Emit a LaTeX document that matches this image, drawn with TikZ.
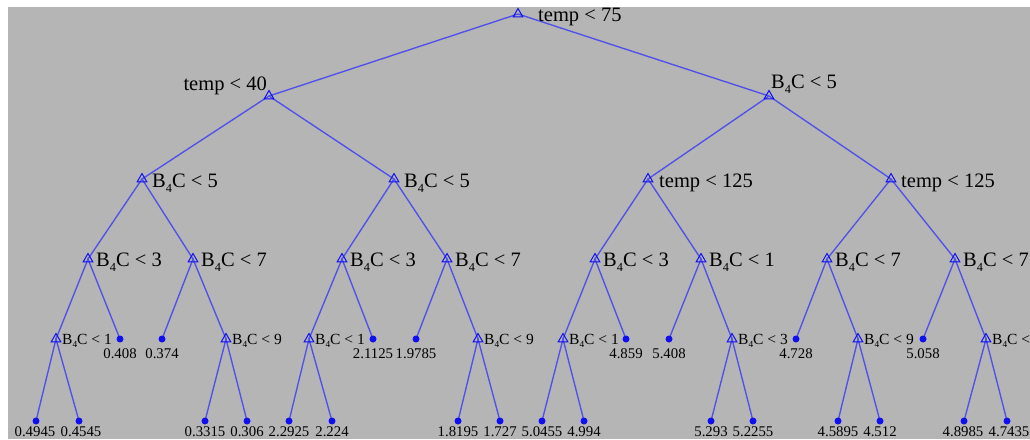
\documentclass[tikz,border=0pt]{standalone}
\usepackage{fontspec}
\setmainfont{Liberation Serif}
\usetikzlibrary{shapes.geometric}
\definecolor{bggray}{RGB}{181,181,181}
\definecolor{edgeblue}{RGB}{80,80,235}
\definecolor{markblue}{RGB}{15,15,240}
\newcommand\Bfc{B\raisebox{-0.55ex}{\scalebox{0.6}{4}}C}
\begin{document}
\begin{tikzpicture}[x=1pt,y=-1pt,
  edge/.style={draw=edgeblue, line width=1.35pt},
  dec/.style={regular polygon, regular polygon sides=3, draw=markblue, line width=1pt, minimum size=11pt, inner sep=0pt},
  leaf/.style={circle, fill=markblue, minimum size=7pt, inner sep=0pt},
  big/.style={font=\fontsize{20.5}{22}\selectfont, inner sep=0pt, text=black},
  small/.style={font=\fontsize{15.5}{16}\selectfont, inner sep=0pt, text=black},
  val/.style={font=\fontsize{14.8}{16}\selectfont, inner sep=0pt, text=black, anchor=base}]
\useasboundingbox (0,0) rectangle (1030,439);
\clip (0,0) rectangle (1030,439);
\fill[white] (0,0) rectangle (1030,439);
\fill[bggray] (8,7) rectangle (1030,439);
% positions
\coordinate (n0) at (518,14);
\coordinate (n1) at (269,96);
\coordinate (n2) at (769,96);
\coordinate (n11) at (142,179);
\coordinate (n12) at (394,179);
\coordinate (n21) at (648,179);
\coordinate (n22) at (891,179);
\coordinate (n111) at (88,259);
\coordinate (n112) at (193,259);
\coordinate (n121) at (342,259);
\coordinate (n122) at (447,259);
\coordinate (n211) at (595,259);
\coordinate (n212) at (701,259);
\coordinate (n221) at (827,259);
\coordinate (n222) at (955,259);
\coordinate (n1111) at (56,339);
\coordinate (n1112) at (120,339);
\coordinate (n1121) at (162,339);
\coordinate (n1122) at (226,339);
\coordinate (n1211) at (309,339);
\coordinate (n1212) at (373,339);
\coordinate (n1221) at (416,339);
\coordinate (n1222) at (478,339);
\coordinate (n2111) at (563,339);
\coordinate (n2112) at (626,339);
\coordinate (n2121) at (669,339);
\coordinate (n2122) at (732,339);
\coordinate (n2211) at (796,339);
\coordinate (n2212) at (858,339);
\coordinate (n2221) at (923,339);
\coordinate (n2222) at (986,339);
\coordinate (n11111) at (36,421);
\coordinate (n11112) at (79,421);
\coordinate (n11221) at (205,421);
\coordinate (n11222) at (247,421);
\coordinate (n12111) at (289,421);
\coordinate (n12112) at (332,421);
\coordinate (n12221) at (458,421);
\coordinate (n12222) at (500,421);
\coordinate (n21111) at (542,421);
\coordinate (n21112) at (584,421);
\coordinate (n21221) at (711,421);
\coordinate (n21222) at (753,421);
\coordinate (n22121) at (838,421);
\coordinate (n22122) at (880,421);
\coordinate (n22221) at (964,421);
\coordinate (n22222) at (1007,421);
% edges
\draw[edge] (n1) -- (n0) -- (n2);
\draw[edge] (n11) -- (n1) -- (n12);
\draw[edge] (n21) -- (n2) -- (n22);
\draw[edge] (n111) -- (n11) -- (n112);
\draw[edge] (n121) -- (n12) -- (n122);
\draw[edge] (n211) -- (n21) -- (n212);
\draw[edge] (n221) -- (n22) -- (n222);
\draw[edge] (n1111) -- (n111) -- (n1112);
\draw[edge] (n1121) -- (n112) -- (n1122);
\draw[edge] (n1211) -- (n121) -- (n1212);
\draw[edge] (n1221) -- (n122) -- (n1222);
\draw[edge] (n2111) -- (n211) -- (n2112);
\draw[edge] (n2121) -- (n212) -- (n2122);
\draw[edge] (n2211) -- (n221) -- (n2212);
\draw[edge] (n2221) -- (n222) -- (n2222);
\draw[edge] (n11111) -- (n1111) -- (n11112);
\draw[edge] (n11221) -- (n1122) -- (n11222);
\draw[edge] (n12111) -- (n1211) -- (n12112);
\draw[edge] (n12221) -- (n1222) -- (n12222);
\draw[edge] (n21111) -- (n2111) -- (n21112);
\draw[edge] (n21221) -- (n2122) -- (n21222);
\draw[edge] (n22121) -- (n2212) -- (n22122);
\draw[edge] (n22221) -- (n2222) -- (n22222);
% decision markers
\foreach \n in {n0,n1,n2,n11,n12,n21,n22,n111,n112,n121,n122,n211,n212,n221,n222,n1111,n1122,n1211,n1222,n2111,n2122,n2212,n2222}
  \node[dec] (m\n) at (\n) {};
% leaf markers
\foreach \n in {n1112,n1121,n1212,n1221,n2112,n2121,n2211,n2221,n11111,n11112,n11221,n11222,n12111,n12112,n12221,n12222,n21111,n21112,n21221,n21222,n22121,n22122,n22221,n22222}
  \node[leaf] (m\n) at (\n) {};
% decision labels
\node[big, anchor=base west] (t0) at ([xshift=20pt,yshift=-7pt]n0) {temp < 75};
\node[big, anchor=base east] (t1) at ([xshift=-2pt,yshift=6pt]n1) {temp < 40};
\node[big, anchor=base west] (t2) at ([xshift=2pt,yshift=8pt]n2) {\Bfc{} < 5};
\node[big, anchor=base west] (t11) at ([xshift=10pt,yshift=-8pt]n11) {\Bfc{} < 5};
\node[big, anchor=base west] (t12) at ([xshift=10pt,yshift=-8pt]n12) {\Bfc{} < 5};
\node[big, anchor=base west] (t21) at ([xshift=11pt,yshift=-8pt]n21) {temp < 125};
\node[big, anchor=base west] (t22) at ([xshift=10pt,yshift=-8pt]n22) {temp < 125};
\node[big, anchor=base west] (t111) at ([xshift=8pt,yshift=-7pt]n111) {\Bfc{} < 3};
\node[big, anchor=base west] (t112) at ([xshift=8pt,yshift=-7pt]n112) {\Bfc{} < 7};
\node[big, anchor=base west] (t121) at ([xshift=8pt,yshift=-7pt]n121) {\Bfc{} < 3};
\node[big, anchor=base west] (t122) at ([xshift=8pt,yshift=-7pt]n122) {\Bfc{} < 7};
\node[big, anchor=base west] (t211) at ([xshift=8pt,yshift=-7pt]n211) {\Bfc{} < 3};
\node[big, anchor=base west] (t212) at ([xshift=8pt,yshift=-7pt]n212) {\Bfc{} < 1};
\node[big, anchor=base west] (t221) at ([xshift=8pt,yshift=-7pt]n221) {\Bfc{} < 7};
\node[big, anchor=base west] (t222) at ([xshift=8pt,yshift=-7pt]n222) {\Bfc{} < 7};
\node[small, anchor=base west] (t1111) at ([xshift=6pt,yshift=-5pt]n1111) {\Bfc{} < 1};
\node[small, anchor=base west] (t1122) at ([xshift=6pt,yshift=-5pt]n1122) {\Bfc{} < 9};
\node[small, anchor=base west] (t1211) at ([xshift=6pt,yshift=-5pt]n1211) {\Bfc{} < 1};
\node[small, anchor=base west] (t1222) at ([xshift=6pt,yshift=-5pt]n1222) {\Bfc{} < 9};
\node[small, anchor=base west] (t2111) at ([xshift=6pt,yshift=-5pt]n2111) {\Bfc{} < 1};
\node[small, anchor=base west] (t2122) at ([xshift=6pt,yshift=-5pt]n2122) {\Bfc{} < 3};
\node[small, anchor=base west] (t2212) at ([xshift=6pt,yshift=-5pt]n2212) {\Bfc{} < 9};
\node[small, anchor=base west] (t2222) at ([xshift=6pt,yshift=-5pt]n2222) {\Bfc{} < 9};
% leaf labels
\node[val] (t1112) at ([yshift=-19pt]n1112) {0.408};
\node[val] (t1121) at ([yshift=-19pt]n1121) {0.374};
\node[val] (t1212) at ([yshift=-19pt]n1212) {2.1125};
\node[val] (t1221) at ([yshift=-19pt]n1221) {1.9785};
\node[val] (t2112) at ([yshift=-19pt]n2112) {4.859};
\node[val] (t2121) at ([yshift=-19pt]n2121) {5.408};
\node[val] (t2211) at ([yshift=-19pt]n2211) {4.728};
\node[val] (t2221) at ([yshift=-19pt]n2221) {5.058};
\node[val] (t11111) at ([xshift=-1pt,yshift=-15pt]n11111) {0.4945};
\node[val] (t11112) at ([xshift=2pt,yshift=-15pt]n11112) {0.4545};
\node[val] (t11221) at ([yshift=-15pt]n11221) {0.3315};
\node[val] (t11222) at ([yshift=-15pt]n11222) {0.306};
\node[val] (t12111) at ([yshift=-15pt]n12111) {2.2925};
\node[val] (t12112) at ([yshift=-15pt]n12112) {2.224};
\node[val] (t12221) at ([yshift=-15pt]n12221) {1.8195};
\node[val] (t12222) at ([yshift=-15pt]n12222) {1.727};
\node[val] (t21111) at ([yshift=-15pt]n21111) {5.0455};
\node[val] (t21112) at ([yshift=-15pt]n21112) {4.994};
\node[val] (t21221) at ([yshift=-15pt]n21221) {5.293};
\node[val] (t21222) at ([yshift=-15pt]n21222) {5.2255};
\node[val] (t22121) at ([yshift=-15pt]n22121) {4.5895};
\node[val] (t22122) at ([yshift=-15pt]n22122) {4.512};
\node[val] (t22221) at ([xshift=-1pt,yshift=-15pt]n22221) {4.8985};
\node[val] (t22222) at ([xshift=2pt,yshift=-15pt]n22222) {4.7435};
\end{tikzpicture}
\end{document}
